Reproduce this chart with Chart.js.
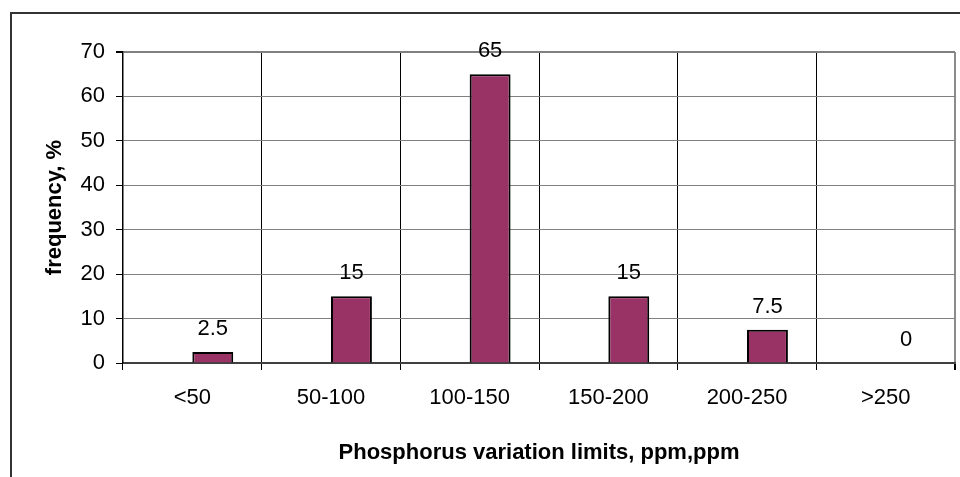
<!DOCTYPE html>
<html>
<head>
<meta charset="utf-8">
<script src="https://cdn.jsdelivr.net/npm/chart.js@4/dist/chart.umd.min.js"></script>
<style>
  html, body { margin: 0; padding: 0; background: #fff; }
  #wrap { width: 960px; height: 477px; }
</style>
</head>
<body>
<div id="wrap"><canvas id="phChart" width="960" height="477"></canvas></div>
<script>
const categories = ['<50', '50-100', '100-150', '150-200', '200-250', '>250'];
const frequency = [2.5, 15, 65, 15, 7.5, 0];
const emptySeries = [null, null, null, null, null, null];
const yTicks = [0, 10, 20, 30, 40, 50, 60, 70];

const FONT = 'Liberation Sans, Arial, sans-serif';
Chart.defaults.font.family = FONT;
Chart.defaults.color = '#000';

// outer frame of the chart object (only top and left visible)
const framePlugin = {
  id: 'frame',
  beforeDraw(chart) {
    const ctx = chart.ctx;
    ctx.save();
    ctx.strokeStyle = '#333';
    ctx.lineWidth = 2;
    ctx.strokeRect(11, 13, 1000, 500);
    ctx.restore();
  }
};

// value labels above the bars
const valueLabels = {
  id: 'valueLabels',
  afterDatasetsDraw(chart) {
    const ctx = chart.ctx;
    const meta = chart.getDatasetMeta(1);
    ctx.save();
    ctx.font = '22px ' + FONT;
    ctx.fillStyle = '#000';
    ctx.textAlign = 'center';
    ctx.textBaseline = 'middle';
    meta.data.forEach((bar, i) => {
      ctx.fillText(String(frequency[i]), bar.x, bar.y - 23);
    });
    ctx.restore();
  }
};

const chart = new Chart(document.getElementById('phChart'), {
  type: 'bar',
  data: {
    labels: categories,
    datasets: [
      { data: emptySeries },
      {
        data: frequency,
        backgroundColor: '#993366',
        borderColor: '#000',
        borderWidth: 2,
      },
    ],
  },
  options: {
    responsive: false,
    animation: false,
    categoryPercentage: 0.59,
    barPercentage: 1,
    layout: { padding: { top: 52, right: 5, left: 0, bottom: 0 } },
    plugins: { legend: { display: false }, tooltip: { enabled: false } },
    scales: {
      x: {
        afterFit: (s) => { s.height = 114; },
        grid: {
          offset: true,
          color: (c) => (c.type === 'tick' ? '#000' : '#8c8c8c'),
          lineWidth: (c) => (c.type === 'tick' ? 1 : 2),
          tickColor: '#000',
          tickLength: 7,
        },
        border: { color: '#404040', width: 1.5 },
        ticks: { font: { size: 22 }, padding: 15, color: '#000' },
        title: {
          display: true,
          text: 'Phosphorus variation limits, ppm,ppm',
          font: { size: 22, weight: 'bold' },
          color: '#000',
          padding: { top: 0, bottom: 11 },
        },
      },
      y: {
        min: 0,
        max: 70,
        afterFit: (s) => { s.width = 123; },
        afterBuildTicks: (s) => { s.ticks = yTicks.map((v) => ({ value: v })); },
        grid: {
          color: (c) => (c.tick && c.tick.value === 0 ? '#404040' : '#808080'),
          lineWidth: (c) => (c.tick && c.tick.value === 70 ? 2 : 1),
          tickColor: '#000',
          tickLength: 7,
        },
        border: { color: '#000', width: 1.5 },
        ticks: { font: { size: 22 }, padding: 11, color: '#000' },
        title: {
          display: true,
          text: 'frequency, %',
          font: { size: 22, weight: 'bold' },
          color: '#000',
          padding: { top: 42, bottom: 0 },
        },
      },
    },
  },
  plugins: [framePlugin, valueLabels],
});
</script>
</body>
</html>
